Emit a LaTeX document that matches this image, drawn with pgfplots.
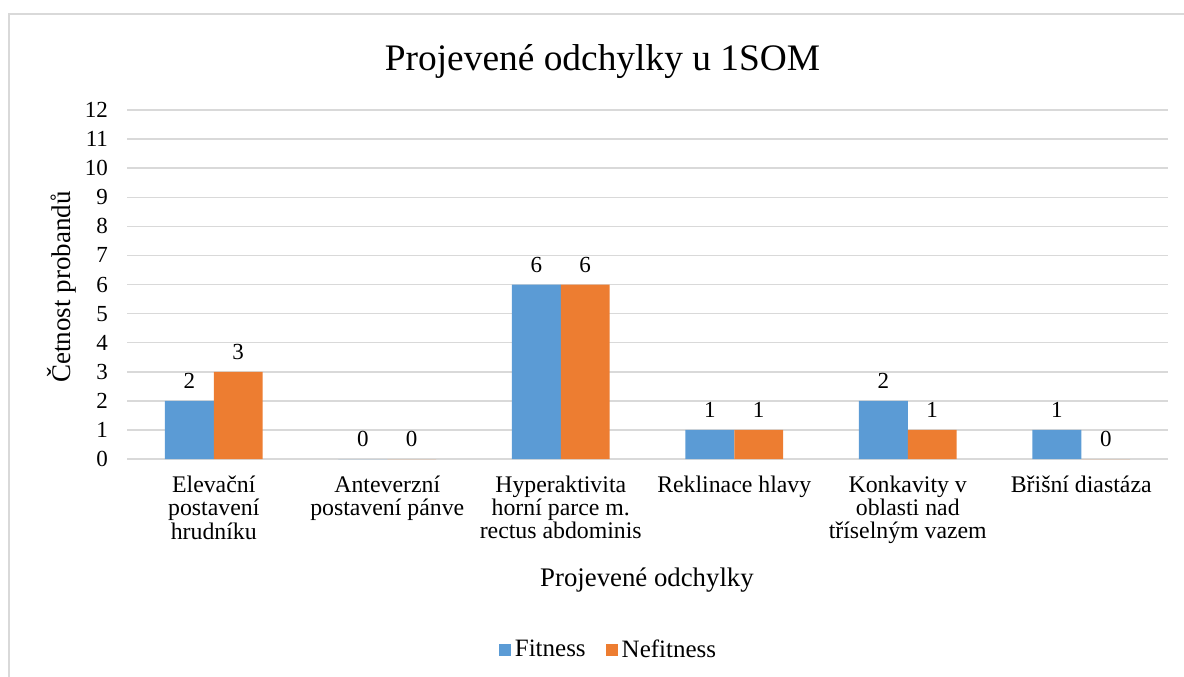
\documentclass[border=0pt]{standalone}
\usepackage{pgfplots}
\pgfplotsset{compat=1.18}
\usepackage{fontspec}
\setmainfont{Liberation Serif}
\definecolor{fitblue}{HTML}{5B9BD5}
\definecolor{nefor}{HTML}{ED7D31}
\definecolor{gridgray}{HTML}{D9D9D9}
\begin{document}
\begin{tikzpicture}
\useasboundingbox (-63.5pt,-108.5pt) rectangle (528.5pt,229.5pt);
\draw[gridgray, line width=1pt] (-59pt,-130pt) -- (-59pt,222.5pt) -- (540pt,222.5pt);
\begin{axis}[
  at={(0,0)}, anchor=south west,
  scale only axis,
  width=520.5pt, height=174.5pt,
  xmin=-0.5, xmax=5.5, ymin=0, ymax=12,
  ybar=0pt, bar width=0.2824,
  xtick={0,1,2,3,4,5},
  xticklabels={{Elevační\\postavení\\hrudníku},{Anteverzní\\postavení pánve},{Hyperaktivita\\horní parce m.\\rectus abdominis},{Reklinace hlavy},{Konkavity v\\oblasti nad\\tříselným vazem},{Břišní diastáza}},
  xticklabel style={align=center, font=\fontsize{11.9}{11.6}\selectfont, anchor=north, yshift=-5pt},
  ytick={0,1,...,12},
  yticklabel style={font=\fontsize{11.5}{13}\selectfont, xshift=-6pt},
  /pgf/number format/assume math mode=true,
  major tick length=0pt,
  ymajorgrids, grid style={gridgray, line width=0.75pt},
  axis line style={draw=none},
  clip=false,
  nodes near coords,
  every node near coord/.append style={font=\fontsize{11.5}{13}\selectfont, yshift=2.5pt, text=black},
  legend style={at={(axis description cs:0.4635,-0.547)}, anchor=center, draw=none, legend columns=2, font=\fontsize{12.5}{14}\selectfont, /tikz/every even column/.append style={column sep=8pt}},
  legend image code/.code={\fill[#1] (0pt,-3pt) rectangle (6pt,3pt);},
]
\addplot[fill=fitblue, draw=none] coordinates {(0,2) (1,0) (2,6) (3,1) (4,2) (5,1)};
\addplot[fill=nefor, draw=none] coordinates {(0,3) (1,0) (2,6) (3,1) (4,1) (5,0)};
\legend{Fitness, Nefitness}
\end{axis}
\node[font=\fontsize{18.7}{22}\selectfont] at (237.75pt,198.5pt) {Projevené odchylky u 1SOM};
\node[font=\fontsize{13.4}{15}\selectfont] at (260pt,-60.5pt) {Projevené odchylky};
\node[font=\fontsize{13.5}{15}\selectfont, rotate=90] at (-32.5pt,86pt) {Četnost probandů};
\end{tikzpicture}
\end{document}
